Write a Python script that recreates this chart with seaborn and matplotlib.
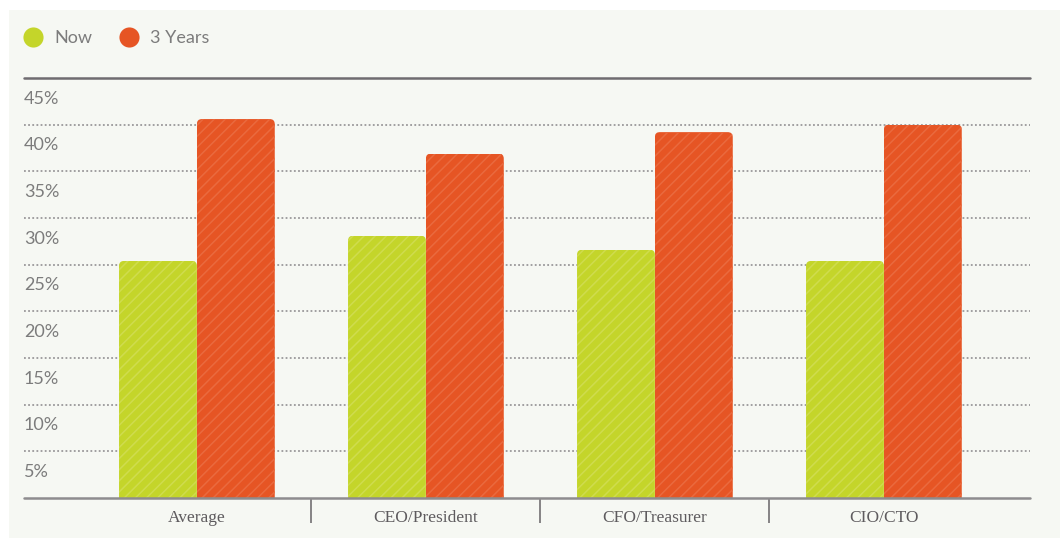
import matplotlib
matplotlib.use("Agg")
import matplotlib.pyplot as plt
import seaborn as sns
import pandas as pd
from matplotlib.lines import Line2D
from matplotlib.patches import Rectangle, FancyBboxPatch
from matplotlib.transforms import ScaledTranslation
import matplotlib.colors as mcolors

# ---- data ----
categories = ["Average", "CEO/President", "CFO/Treasurer", "CIO/CTO"]
series_names = ["Now", "3 Years"]
now_values = [25.4, 28.1, 26.6, 25.4]
three_year_values = [40.6, 36.9, 39.2, 40.0]
ytick_values = [5, 10, 15, 20, 25, 30, 35, 40, 45]
ytick_labels = ["5%", "10%", "15%", "20%", "25%", "30%", "35%", "40%", "45%"]
separator_positions = [0.5, 1.5, 2.5]

# ---- styles ----
GREEN = "#c4d52a"
ORANGE = "#e65524"
GREEN_HATCH = "#cfdc4e"
ORANGE_HATCH = "#ea6a3e"
BG = "#f6f8f3"
TEXT_GRAY = "#7c7c7c"
XLABEL_GRAY = "#5e5b5e"

df = pd.DataFrame({
    "Role": categories * 2,
    "Period": [series_names[0]] * len(categories) + [series_names[1]] * len(categories),
    "Share": now_values + three_year_values,
})

sns.set_theme(style="white")
plt.rcParams["font.family"] = ["Lato", "DejaVu Sans"]
plt.rcParams["hatch.linewidth"] = 1.1

W, H = 1060, 538
fig = plt.figure(figsize=(W / 100, H / 100), dpi=100)
fig.patch.set_facecolor("white")
fig.add_artist(Rectangle((9 / W, 0), (W - 9) / W, (H - 10) / H,
                         transform=fig.transFigure, facecolor=BG,
                         edgecolor="none", zorder=0))

ax_left, ax_right, ax_bottom, ax_top = 24, 1030, 498, 78
ax = fig.add_axes([ax_left / W, 1 - ax_bottom / H, (ax_right - ax_left) / W,
                   (ax_bottom - ax_top) / H])
ax.set_facecolor("none")

sns.barplot(data=df, x="Role", y="Share", hue="Period", hue_order=series_names,
            palette=[GREEN, ORANGE], width=0.68, saturation=1, ax=ax,
            legend=False, zorder=3)

XMIN, XMAX = -0.755, 3.638
YMIN, YMAX = 0, 45
ax.set_ylim(YMIN, YMAX)
ax.set_xlim(XMIN, XMAX)

# hatch + rounded top corners via clip path
px_per_x = (ax_right - ax_left) / (XMAX - XMIN)
px_per_y = (ax_bottom - ax_top) / (YMAX - YMIN)
aspect = px_per_x / px_per_y
radius_px = 5
green_rgb = mcolors.to_rgb(GREEN)
for p in list(ax.patches):
    fc = mcolors.to_rgb(p.get_facecolor())
    is_green = all(abs(a - b) < 0.02 for a, b in zip(fc, green_rgb))
    p.set_hatch("///")
    p.set_edgecolor(GREEN_HATCH if is_green else ORANGE_HATCH)
    p.set_linewidth(0)
    x0, w, h = p.get_x(), p.get_width(), p.get_height()
    clip = FancyBboxPatch((x0, -2), w, h + 2,
                          boxstyle=f"round,pad=0,rounding_size={radius_px / px_per_x}",
                          mutation_aspect=aspect, transform=ax.transData)
    p.set_clip_path(clip)

# dotted gridlines
for v in ytick_values[:-1]:
    ax.axhline(v, color="#9a989a", lw=1.3, ls=(0, (1, 1.3)), zorder=1)

# top and bottom rules
for s in ["left", "right", "top", "bottom"]:
    ax.spines[s].set_visible(False)
ax.axhline(YMAX, color="#6f6c70", lw=1.8, zorder=5, clip_on=False)
ax.axhline(YMIN, color="#8e8c8e", lw=1.8, zorder=5, clip_on=False)

# y tick labels placed just below each gridline
ax.set_yticks(ytick_values, ytick_labels)
ax.tick_params(axis="y", which="major", length=0, pad=0, labelsize=13,
               labelcolor=TEXT_GRAY, left=False)
offset = ScaledTranslation(0, -19 / 100, fig.dpi_scale_trans)
for lab in ax.get_yticklabels():
    lab.set_horizontalalignment("left")
    lab.set_transform(lab.get_transform() + offset)

# x labels and separators
ax.set_xticks(range(len(categories)), categories)
ax.set_xticks(separator_positions, minor=True)
ax.tick_params(axis="x", which="major", length=0, pad=9, labelsize=12.5,
               labelcolor=XLABEL_GRAY, bottom=False)
ax.tick_params(axis="x", which="minor", length=18, width=1.4,
               color="#858385", direction="out", bottom=True)
for lab in ax.get_xticklabels():
    lab.set_fontfamily(["Liberation Serif", "DejaVu Serif"])
ax.set_xlabel("")
ax.set_ylabel("")

# legend
handles = [Line2D([], [], marker="o", ls="", markersize=14.5, color=c,
                  markeredgewidth=0) for c in (GREEN, ORANGE)]
leg = fig.legend(handles, series_names, loc="center left",
                 bbox_to_anchor=(24 / W, 1 - 38 / H), frameon=False, ncol=2,
                 fontsize=13, handlelength=1.0, handletextpad=0.7,
                 columnspacing=1.5, borderpad=0, borderaxespad=0)
for t in leg.get_texts():
    t.set_color(TEXT_GRAY)

fig.savefig("out.png", dpi=100, facecolor=fig.get_facecolor())
